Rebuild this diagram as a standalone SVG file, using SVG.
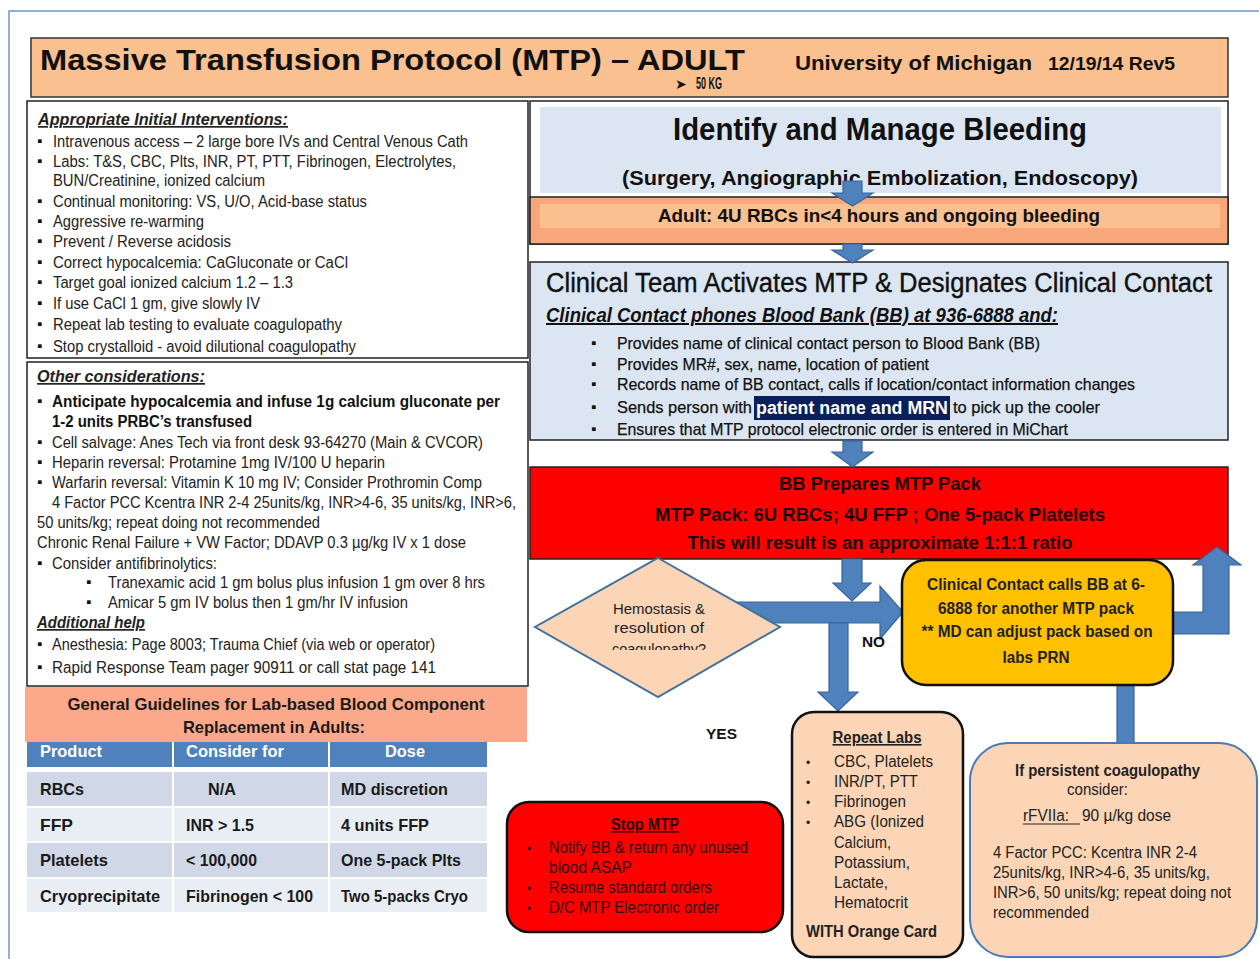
<svg xmlns="http://www.w3.org/2000/svg" width="1259" height="959" viewBox="0 0 1259 959">
<style>
text{font-family:"Liberation Sans Narrow","Liberation Sans",Arial,sans-serif;}
.b{font-weight:bold}
.bi{font-weight:bold;font-style:italic;text-decoration:underline}
.u{text-decoration:underline}
.lp{font-size:16px;fill:#222}
.bul{font-size:15px;fill:#111;font-family:"DejaVu Sans",sans-serif}
.dot{font-size:12px;fill:#222;font-family:"DejaVu Sans",sans-serif}
.th{font-size:17px;font-weight:bold;fill:#fff}
.td{font-size:17px;font-weight:bold;fill:#1a1a1a}
.arr{fill:#4F81BD;stroke:#3A659B;stroke-width:1.2}
.cb{font-size:16.5px;fill:#111;stroke:#111;stroke-width:0.25}
.rb{font-size:19px;font-weight:bold;fill:#1a0000}
.yb{font-size:16px;font-weight:bold;fill:#222}
.rl{font-size:16px;fill:#222}
.sm{font-size:16px;fill:#2e0505}
</style>
<defs>
<clipPath id="dclip"><rect x="530" y="556" width="260" height="94"/></clipPath>
</defs>

<path d="M9,959 V11 H1259" fill="none" stroke="#6C97CF" stroke-width="1.5"/>

<g id="title">
<rect x="31" y="38" width="1197" height="59" fill="#FAC090" stroke="#333" stroke-width="1.5"/>
<text x="40" y="70" class="b" font-size="29" fill="#111" textLength="705" lengthAdjust="spacingAndGlyphs" style="font-family:'Liberation Sans',Arial,sans-serif">Massive Transfusion Protocol (MTP) – ADULT</text>
<text x="675" y="89" font-size="14" fill="#111" style="font-family:'DejaVu Sans',sans-serif">➤</text>
<text x="696" y="89" class="b" font-size="17" fill="#111" textLength="26" lengthAdjust="spacingAndGlyphs">50 KG</text>
<text x="795" y="70" class="b" font-size="21" fill="#111" textLength="237" lengthAdjust="spacingAndGlyphs">University of Michigan</text>
<text x="1048" y="70" class="b" font-size="19" fill="#111" textLength="127" lengthAdjust="spacingAndGlyphs">12/19/14 Rev5</text>
</g>

<g id="initial-interventions">
<rect x="27" y="101" width="501" height="257" fill="#fff" stroke="#222" stroke-width="1.5"/>
<text x="38" y="125" class="bi" font-size="17" fill="#222" textLength="250" lengthAdjust="spacingAndGlyphs">Appropriate Initial Interventions:</text>
<g class="bul">
<text x="37" y="146">▪</text><text x="37" y="166">▪</text><text x="37" y="206">▪</text><text x="37" y="226">▪</text><text x="37" y="246">▪</text><text x="37" y="267">▪</text><text x="37" y="287">▪</text><text x="37" y="308">▪</text><text x="37" y="329">▪</text><text x="37" y="351">▪</text>
</g>
<g class="lp">
<text x="53" y="147" textLength="415" lengthAdjust="spacingAndGlyphs">Intravenous access – 2 large bore IVs and Central Venous Cath</text>
<text x="53" y="167" textLength="403" lengthAdjust="spacingAndGlyphs">Labs: T&amp;S, CBC, Plts, INR, PT, PTT, Fibrinogen, Electrolytes,</text>
<text x="53" y="186" textLength="212" lengthAdjust="spacingAndGlyphs">BUN/Creatinine, ionized calcium</text>
<text x="53" y="207" textLength="314" lengthAdjust="spacingAndGlyphs">Continual monitoring: VS, U/O, Acid-base status</text>
<text x="53" y="227" textLength="151" lengthAdjust="spacingAndGlyphs">Aggressive re-warming</text>
<text x="53" y="247" textLength="178" lengthAdjust="spacingAndGlyphs">Prevent / Reverse acidosis</text>
<text x="53" y="268" textLength="295" lengthAdjust="spacingAndGlyphs">Correct hypocalcemia:  CaGluconate or CaCl</text>
<text x="53" y="288" textLength="240" lengthAdjust="spacingAndGlyphs">Target goal ionized calcium 1.2 – 1.3</text>
<text x="53" y="309" textLength="207" lengthAdjust="spacingAndGlyphs">If use CaCl 1 gm, give slowly IV</text>
<text x="53" y="330" textLength="289" lengthAdjust="spacingAndGlyphs">Repeat lab testing to evaluate coagulopathy</text>
<text x="53" y="352" textLength="303" lengthAdjust="spacingAndGlyphs">Stop crystalloid - avoid dilutional coagulopathy</text>
</g>
</g>

<g id="other-considerations">
<rect x="27" y="362" width="501" height="324" fill="#fff" stroke="#222" stroke-width="1.5"/>
<text x="37" y="382" class="bi" font-size="17" fill="#222" textLength="168" lengthAdjust="spacingAndGlyphs">Other considerations:</text>
<g class="bul">
<text x="37" y="406">▪</text><text x="37" y="447">▪</text><text x="37" y="467">▪</text><text x="37" y="487">▪</text><text x="37" y="568">▪</text><text x="86" y="587">▪</text><text x="86" y="607">▪</text><text x="37" y="649">▪</text><text x="37" y="672">▪</text>
</g>
<text x="52" y="407" class="b" font-size="16" fill="#111" textLength="448" lengthAdjust="spacingAndGlyphs">Anticipate hypocalcemia and infuse 1g calcium gluconate per</text>
<text x="52" y="427" class="b" font-size="16" fill="#111" textLength="200" lengthAdjust="spacingAndGlyphs">1-2 units PRBC’s transfused</text>
<g class="lp">
<text x="52" y="448" textLength="431" lengthAdjust="spacingAndGlyphs">Cell salvage: Anes Tech via front desk 93-64270 (Main &amp; CVCOR)</text>
<text x="52" y="468" textLength="333" lengthAdjust="spacingAndGlyphs">Heparin reversal:  Protamine 1mg IV/100 U heparin</text>
<text x="52" y="488" textLength="430" lengthAdjust="spacingAndGlyphs">Warfarin reversal: Vitamin K 10 mg IV; Consider Prothromin Comp</text>
<text x="52" y="508" textLength="464" lengthAdjust="spacingAndGlyphs">4 Factor PCC Kcentra INR 2-4 25units/kg, INR&gt;4-6, 35 units/kg, INR&gt;6,</text>
<text x="37" y="528" textLength="283" lengthAdjust="spacingAndGlyphs">50 units/kg; repeat doing not recommended</text>
<text x="37" y="548" textLength="429" lengthAdjust="spacingAndGlyphs">Chronic Renal Failure + VW Factor; DDAVP 0.3 µg/kg IV x 1 dose</text>
<text x="52" y="569" textLength="165" lengthAdjust="spacingAndGlyphs">Consider antifibrinolytics:</text>
<text x="108" y="588" textLength="377" lengthAdjust="spacingAndGlyphs">Tranexamic acid 1 gm bolus plus infusion 1 gm over 8 hrs</text>
<text x="108" y="608" textLength="300" lengthAdjust="spacingAndGlyphs">Amicar 5 gm IV bolus then 1 gm/hr IV infusion</text>
</g>
<text x="37" y="628" class="bi" font-size="17" fill="#222" textLength="108" lengthAdjust="spacingAndGlyphs">Additional help</text>
<g class="lp">
<text x="52" y="650" textLength="383" lengthAdjust="spacingAndGlyphs">Anesthesia: Page 8003; Trauma Chief (via web or operator)</text>
<text x="52" y="673" textLength="384" lengthAdjust="spacingAndGlyphs">Rapid Response Team   pager 90911 or call stat page 141</text>
</g>
</g>

<g id="guidelines-table">
<rect x="25" y="687" width="502" height="55" fill="#FBA98A"/>
<text x="276" y="710" text-anchor="middle" class="b" font-size="17" fill="#1a1a1a" textLength="417" lengthAdjust="spacingAndGlyphs">General Guidelines for Lab-based Blood Component</text>
<text x="274" y="733" text-anchor="middle" class="b" font-size="17" fill="#1a1a1a" textLength="182" lengthAdjust="spacingAndGlyphs">Replacement in Adults:</text>
<rect x="27" y="742" width="145" height="25" fill="#4F81BD"/>
<rect x="174" y="742" width="154" height="25" fill="#4F81BD"/>
<rect x="330" y="742" width="157" height="25" fill="#4F81BD"/>
<g fill="#D0D8E8">
<rect x="27" y="772" width="145" height="34"/><rect x="174" y="772" width="154" height="34"/><rect x="330" y="772" width="157" height="34"/>
<rect x="27" y="843" width="145" height="34"/><rect x="174" y="843" width="154" height="34"/><rect x="330" y="843" width="157" height="34"/>
</g>
<g fill="#E9EDF4">
<rect x="27" y="808" width="145" height="33"/><rect x="174" y="808" width="154" height="33"/><rect x="330" y="808" width="157" height="33"/>
<rect x="27" y="879" width="145" height="33"/><rect x="174" y="879" width="154" height="33"/><rect x="330" y="879" width="157" height="33"/>
</g>
<text x="40" y="757" class="th" textLength="62" lengthAdjust="spacingAndGlyphs">Product</text>
<text x="186" y="757" class="th" textLength="98" lengthAdjust="spacingAndGlyphs">Consider for</text>
<text x="385" y="757" class="th" textLength="40" lengthAdjust="spacingAndGlyphs">Dose</text>
<text x="40" y="795" class="td" textLength="44" lengthAdjust="spacingAndGlyphs">RBCs</text>
<text x="208" y="795" class="td" textLength="28" lengthAdjust="spacingAndGlyphs">N/A</text>
<text x="341" y="795" class="td" textLength="107" lengthAdjust="spacingAndGlyphs">MD discretion</text>
<text x="40" y="831" class="td" textLength="33" lengthAdjust="spacingAndGlyphs">FFP</text>
<text x="186" y="831" class="td" textLength="68" lengthAdjust="spacingAndGlyphs">INR &gt; 1.5</text>
<text x="341" y="831" class="td" textLength="88" lengthAdjust="spacingAndGlyphs">4 units FFP</text>
<text x="40" y="866" class="td" textLength="68" lengthAdjust="spacingAndGlyphs">Platelets</text>
<text x="186" y="866" class="td" textLength="71" lengthAdjust="spacingAndGlyphs">&lt; 100,000</text>
<text x="341" y="866" class="td" textLength="120" lengthAdjust="spacingAndGlyphs">One 5-pack Plts</text>
<text x="40" y="902" class="td" textLength="120" lengthAdjust="spacingAndGlyphs">Cryoprecipitate</text>
<text x="186" y="902" class="td" textLength="127" lengthAdjust="spacingAndGlyphs">Fibrinogen &lt; 100</text>
<text x="341" y="902" class="td" textLength="127" lengthAdjust="spacingAndGlyphs">Two 5-packs Cryo</text>
</g>

<g id="identify-bleeding">
<rect x="530" y="101" width="698" height="143" fill="#fff" stroke="#222" stroke-width="1.5"/>
<rect x="540" y="107" width="681" height="86" fill="#DCE6F2"/>
<text x="880" y="140" text-anchor="middle" class="b" font-size="32" fill="#111" textLength="414" lengthAdjust="spacingAndGlyphs">Identify and Manage Bleeding</text>
<text x="880" y="185" text-anchor="middle" class="b" font-size="21" fill="#111" textLength="516" lengthAdjust="spacingAndGlyphs">(Surgery, Angiographic Embolization, Endoscopy)</text>
</g>

<g id="adult-criteria">
<rect x="530" y="197" width="698" height="47" fill="#F8A77B" stroke="#222" stroke-width="1.5"/>
<rect x="540" y="204" width="680" height="24" fill="#FAC090"/>
<text x="879" y="222" text-anchor="middle" class="b" font-size="18" fill="#111" textLength="442" lengthAdjust="spacingAndGlyphs">Adult: 4U RBCs in&lt;4 hours and ongoing bleeding</text>
</g>

<g id="clinical-team">
<rect x="530" y="262" width="698" height="178" fill="#DCE6F2" stroke="#222" stroke-width="1.5"/>
<text x="546" y="292" font-size="27" fill="#111" stroke="#111" stroke-width="0.4" textLength="666" lengthAdjust="spacingAndGlyphs">Clinical Team Activates MTP &amp; Designates Clinical Contact</text>
<text x="546" y="322" class="bi" font-size="20" fill="#111" textLength="512" lengthAdjust="spacingAndGlyphs">Clinical Contact phones Blood Bank (BB) at 936-6888 and:</text>
<g class="bul">
<text x="591" y="348">▪</text><text x="591" y="369">▪</text><text x="591" y="389">▪</text><text x="591" y="412">▪</text><text x="591" y="434">▪</text>
</g>
<text x="617" y="349" class="cb" textLength="423" lengthAdjust="spacingAndGlyphs">Provides name of clinical contact person to Blood Bank (BB)</text>
<text x="617" y="370" class="cb" textLength="312" lengthAdjust="spacingAndGlyphs">Provides MR#, sex, name, location of patient</text>
<text x="617" y="390" class="cb" textLength="518" lengthAdjust="spacingAndGlyphs">Records name of BB contact, calls if location/contact information changes</text>
<text x="617" y="413" class="cb" textLength="135" lengthAdjust="spacingAndGlyphs">Sends person with</text>
<rect x="754" y="396" width="196" height="24" fill="#0B1F5C"/>
<text x="756" y="414" class="b" font-size="18" fill="#fff" textLength="192" lengthAdjust="spacingAndGlyphs">patient name and MRN</text>
<text x="953" y="413" class="cb" textLength="147" lengthAdjust="spacingAndGlyphs">to pick up the cooler</text>
<text x="617" y="435" class="cb" textLength="451" lengthAdjust="spacingAndGlyphs">Ensures that MTP protocol electronic order is entered in MiChart</text>
</g>

<g id="bb-prepares">
<rect x="530" y="467" width="698" height="92" fill="#FF0000" stroke="#222" stroke-width="1.5"/>
<text x="880" y="490" text-anchor="middle" class="rb" textLength="202" lengthAdjust="spacingAndGlyphs">BB Prepares MTP Pack</text>
<text x="880" y="521" text-anchor="middle" class="rb" textLength="450" lengthAdjust="spacingAndGlyphs">MTP Pack: 6U RBCs; 4U FFP ; One 5-pack Platelets</text>
<text x="880" y="549" text-anchor="middle" class="rb" textLength="385" lengthAdjust="spacingAndGlyphs">This will result is an approximate 1:1:1 ratio</text>
</g>

<g id="connectors">
<polygon class="arr" points="843,181 862,181 862,193 873,193 852.5,206 832,193 843,193"/>
<polygon class="arr" points="843,244 862,244 862,250 873,250 852.5,263 832,250 843,250"/>
<polygon class="arr" points="843,441 862,441 862,452 873,452 852.5,467 832,452 843,452"/>
<polygon class="arr" points="733,602 880,602 880,586 903,612 880,639 880,623 733,623"/>
<polygon class="arr" points="842,559 862,559 862,583 871,583 852,601 833,583 842,583"/>
<polygon class="arr" points="829,623 848,623 848,692 858,692 838,711 818,692 829,692"/>
<polygon class="arr" points="1173,612 1203,612 1203,565 1193,565 1217,547 1241,565 1229,565 1229,634 1173,634"/>
<rect class="arr" x="1117" y="685" width="17" height="58"/>
<text x="862" y="647" class="b" font-size="15" fill="#111" textLength="23" lengthAdjust="spacingAndGlyphs">NO</text>
<text x="706" y="739" class="b" font-size="15" fill="#111" textLength="31" lengthAdjust="spacingAndGlyphs">YES</text>
</g>

<g id="hemostasis-decision">
<polygon points="658,558 780,627 658,697 535,627" fill="#FBD5B5" stroke="#41719C" stroke-width="2"/>
<text x="659" y="614" text-anchor="middle" font-size="15" fill="#222" textLength="92" lengthAdjust="spacingAndGlyphs">Hemostasis &amp;</text>
<text x="659" y="633" text-anchor="middle" font-size="15" fill="#222" textLength="90" lengthAdjust="spacingAndGlyphs">resolution of</text>
<text x="659" y="654" text-anchor="middle" font-size="15" fill="#222" textLength="94" lengthAdjust="spacingAndGlyphs" clip-path="url(#dclip)">coagulopathy?</text>
</g>

<g id="call-another-pack">
<rect x="902" y="560" width="271" height="125" rx="24" fill="#FFC000" stroke="#111" stroke-width="2.5"/>
<text x="1036" y="590" text-anchor="middle" class="yb" textLength="218" lengthAdjust="spacingAndGlyphs">Clinical Contact calls BB at 6-</text>
<text x="1036" y="614" text-anchor="middle" class="yb" textLength="196" lengthAdjust="spacingAndGlyphs">6888 for another MTP pack</text>
<text x="1037" y="637" text-anchor="middle" class="yb" textLength="231" lengthAdjust="spacingAndGlyphs">** MD can adjust pack based on</text>
<text x="1036" y="663" text-anchor="middle" class="yb" textLength="67" lengthAdjust="spacingAndGlyphs">labs PRN</text>
</g>

<g id="repeat-labs">
<rect x="792" y="712" width="171" height="245" rx="22" fill="#FBD5B5" stroke="#111" stroke-width="2.5"/>
<text x="877" y="743" text-anchor="middle" class="yb u" textLength="89" lengthAdjust="spacingAndGlyphs">Repeat Labs</text>
<g class="dot">
<text x="806" y="767">•</text><text x="806" y="787">•</text><text x="806" y="807">•</text><text x="806" y="827">•</text>
</g>
<text x="834" y="767" class="rl" textLength="99" lengthAdjust="spacingAndGlyphs">CBC, Platelets</text>
<text x="834" y="787" class="rl" textLength="84" lengthAdjust="spacingAndGlyphs">INR/PT, PTT</text>
<text x="834" y="807" class="rl" textLength="72" lengthAdjust="spacingAndGlyphs">Fibrinogen</text>
<text x="834" y="827" class="rl" textLength="90" lengthAdjust="spacingAndGlyphs">ABG (Ionized</text>
<text x="834" y="848" class="rl" textLength="57" lengthAdjust="spacingAndGlyphs">Calcium,</text>
<text x="834" y="868" class="rl" textLength="76" lengthAdjust="spacingAndGlyphs">Potassium,</text>
<text x="834" y="888" class="rl" textLength="54" lengthAdjust="spacingAndGlyphs">Lactate,</text>
<text x="834" y="908" class="rl" textLength="74" lengthAdjust="spacingAndGlyphs">Hematocrit</text>
<text x="806" y="937" class="yb" textLength="131" lengthAdjust="spacingAndGlyphs">WITH Orange Card</text>
</g>

<g id="stop-mtp">
<rect x="507" y="802" width="276" height="130" rx="22" fill="#FF0000" stroke="#111" stroke-width="2.5"/>
<text x="645" y="830" text-anchor="middle" class="b u" font-size="16" fill="#2a0000" textLength="68" lengthAdjust="spacingAndGlyphs">Stop MTP</text>
<g class="dot" style="fill:#2e0505">
<text x="527" y="853">•</text><text x="527" y="893">•</text><text x="527" y="913">•</text>
</g>
<text x="549" y="853" class="sm" textLength="199" lengthAdjust="spacingAndGlyphs">Notify BB &amp; return any unused</text>
<text x="549" y="873" class="sm" textLength="83" lengthAdjust="spacingAndGlyphs">blood ASAP</text>
<text x="549" y="893" class="sm" textLength="163" lengthAdjust="spacingAndGlyphs">Resume standard orders</text>
<text x="549" y="913" class="sm" textLength="170" lengthAdjust="spacingAndGlyphs">D/C MTP Electronic order</text>
</g>

<g id="persistent-coagulopathy">
<rect x="970" y="743" width="287" height="214" rx="38" fill="#FBD5B5" stroke="#4A7AB5" stroke-width="2"/>
<text x="1015" y="776" class="yb" textLength="185" lengthAdjust="spacingAndGlyphs">If persistent coagulopathy</text>
<text x="1067" y="795" class="rl" textLength="61" lengthAdjust="spacingAndGlyphs">consider:</text>
<text x="1023" y="821" class="rl" textLength="46" lengthAdjust="spacingAndGlyphs">rFVIIa:</text>
<line x1="1023" y1="824" x2="1080" y2="824" stroke="#222" stroke-width="1"/>
<text x="1082" y="821" class="rl" textLength="89" lengthAdjust="spacingAndGlyphs">90 µ/kg dose</text>
<text x="993" y="858" class="rl" textLength="204" lengthAdjust="spacingAndGlyphs">4 Factor PCC: Kcentra INR 2-4</text>
<text x="993" y="878" class="rl" textLength="217" lengthAdjust="spacingAndGlyphs">25units/kg, INR&gt;4-6, 35 units/kg,</text>
<text x="993" y="898" class="rl" textLength="238" lengthAdjust="spacingAndGlyphs">INR&gt;6, 50 units/kg; repeat doing not</text>
<text x="993" y="918" class="rl" textLength="96" lengthAdjust="spacingAndGlyphs">recommended</text>
</g>
</svg>
